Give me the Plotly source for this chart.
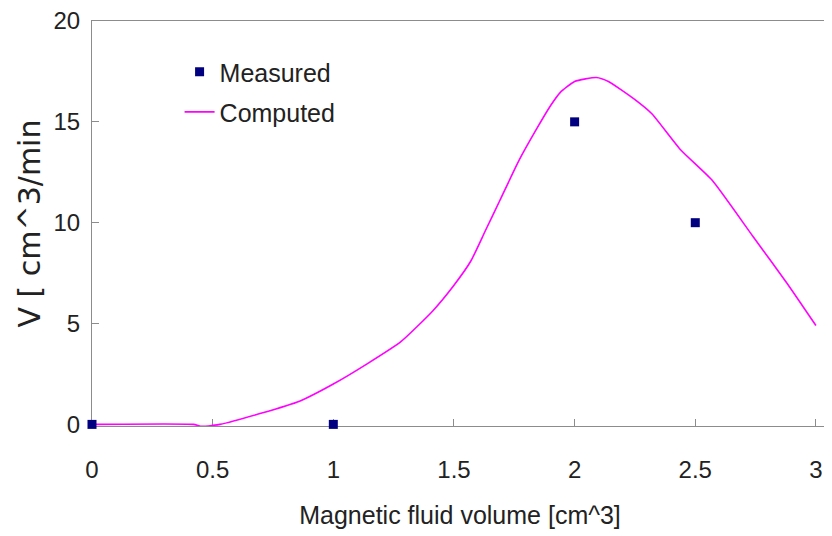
import plotly.graph_objects as go

# Measured data
meas_x = [0, 1, 2, 2.5]
meas_y = [0, 0, 15, 10]

# Computed curve
comp_x = [0, 0.42, 0.455, 0.5, 0.53, 0.7, 0.86, 1.0, 1.14, 1.28, 1.41, 1.5, 1.57,
          1.63, 1.69, 1.77, 1.84, 1.9, 1.94, 2.0, 2.09, 2.14, 2.25, 2.32, 2.44,
          2.57, 2.74, 2.88, 3.0]
comp_y = [0, 0, -0.1, -0.05, 0, 0.55, 1.15, 2.0, 3.0, 4.1, 5.6, 6.9, 8.1,
          9.6, 11.1, 13.1, 14.6, 15.8, 16.45, 17.0, 17.2, 17.0, 16.1, 15.4, 13.6,
          12.1, 9.3, 7.0, 4.9]

x_ticks = [0, 0.5, 1, 1.5, 2, 2.5, 3]
x_ticklabels = ["0", "0.5", "1", "1.5", "2", "2.5", "3"]
y_ticks = [0, 5, 10, 15, 20]

FONT = "Liberation Sans, Arial, sans-serif"
AX = "#8c8c8c"

fig = go.Figure()
fig.add_trace(go.Scatter(
    x=comp_x, y=comp_y, mode="lines", name="Computed",
    line=dict(color="#ff00ff", width=1.6, shape="spline", smoothing=0.5),
    legend="legend2", cliponaxis=False,
))
fig.add_trace(go.Scatter(
    x=meas_x, y=meas_y, mode="markers", name="Measured",
    marker=dict(symbol="square", size=9, color="#000080"),
    legend="legend", cliponaxis=False,
))

fig.update_layout(
    width=824, height=528,
    margin=dict(l=84, r=4, t=13, b=110),
    paper_bgcolor="white", plot_bgcolor="white",
    font=dict(family=FONT, color="#222222", size=24),
    showlegend=True,
    legend=dict(x=0.119, y=0.874, xanchor="left", yanchor="middle",
                bgcolor="rgba(0,0,0,0)", font=dict(size=25, family=FONT),
                itemwidth=30),
    legend2=dict(x=0.119, y=0.775, xanchor="left", yanchor="middle",
                 bgcolor="rgba(0,0,0,0)", font=dict(size=25, family=FONT),
                 itemwidth=30),
    xaxis=dict(
        range=[0, 3.05], tickvals=x_ticks, ticktext=x_ticklabels,
        ticks="inside", ticklen=7, tickcolor=AX, tickwidth=1,
        showline=True, linecolor=AX, linewidth=1.2, mirror=True,
        showgrid=False, zeroline=False, layer="below traces",
        automargin=False, ticklabeloverflow="allow",
        ticklabelstandoff=22,
        tickfont=dict(size=24, family=FONT),
        title=dict(text="Magnetic fluid volume [cm^3]", standoff=24,
                   font=dict(size=25, family=FONT)),
    ),
    yaxis=dict(
        range=[-0.08, 20], tickvals=y_ticks,
        ticks="inside", ticklen=7, tickcolor=AX, tickwidth=1,
        showline=True, linecolor=AX, linewidth=1.2, mirror=True,
        showgrid=False, zeroline=False, layer="below traces",
        automargin=False, ticklabeloverflow="allow",
        ticklabelstandoff=6,
        tickfont=dict(size=24, family=FONT),
        title=dict(text="V [ cm^3/min", standoff=3,
                   font=dict(size=30, family="DejaVu Sans")),
    ),
)

fig.write_html("out.html")
